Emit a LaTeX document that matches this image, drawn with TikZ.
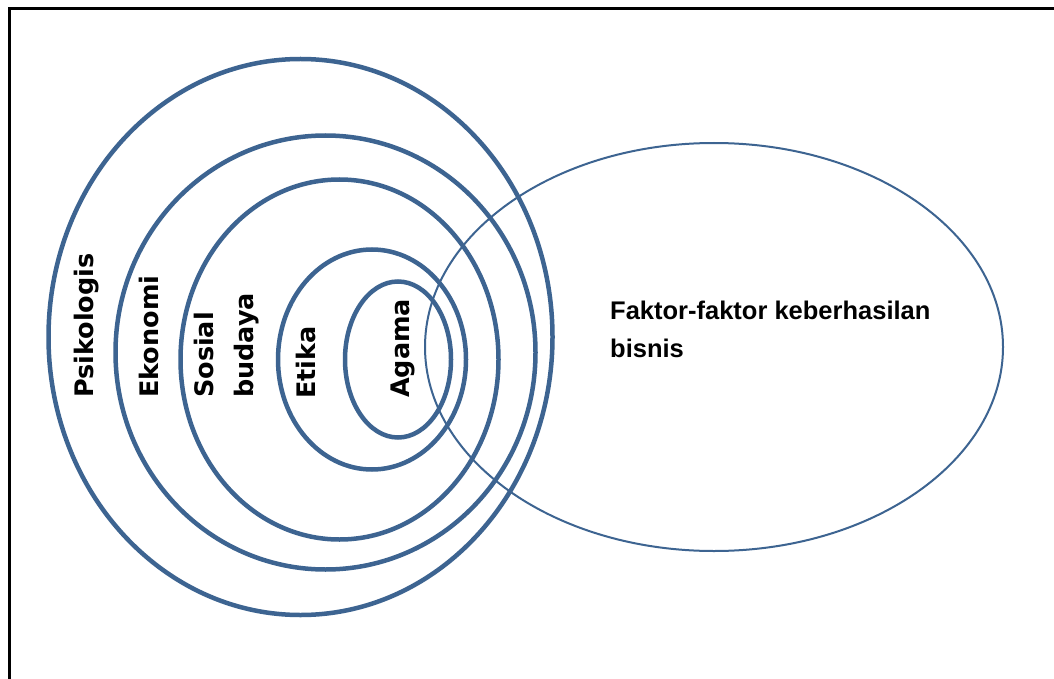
\documentclass[tikz,border=0pt]{standalone}
\usepackage{fontspec}
\setmainfont{Liberation Sans}
\newfontfamily\layerfont{DejaVu Sans}
\definecolor{ringblue}{HTML}{3D6491}

\begin{document}
\begin{tikzpicture}[
        x=1pt, y=-1pt,
        ring/.style={draw=ringblue, line width=4.5pt},
        goal/.style={draw=ringblue, line width=2pt},
        layer/.style={font=\layerfont\bfseries\fontsize{25.5}{40}\selectfont,
          rotate=90, inner sep=0pt, align=left},
        goaltext/.style={font=\bfseries\fontsize{25.5}{38}\selectfont,
          inner sep=0pt, align=left}
      ]
      \useasboundingbox (0,0) rectangle (1054,679);
      \fill[white] (0,0) rectangle (1054,679);
      \draw[line width=3pt] (9,679) |- (1054,9);

      \draw[goal] (714,347) ellipse [x radius=289, y radius=204];

      \draw[ring] (300.5,337) ellipse [x radius=252, y radius=278];
      \draw[ring] (325.5,352.5) ellipse [x radius=210, y radius=217];
      \draw[ring] (339.5,359.5) ellipse [x radius=159, y radius=180];
      \draw[ring] (372,359.5) ellipse [x radius=94, y radius=110];
      \draw[ring] (398,359.5) ellipse [x radius=53, y radius=78];

      \node[layer, anchor=base west] (psikologis) at (93,398) {Psikologis};
      \node[layer, anchor=base west] (ekonomi) at (158,398) {Ekonomi};
      \node[layer, anchor=north west] (sosbud) at (193.6,398) {Sosial\\budaya};
      \node[layer, anchor=base west] (etika) at (315,399) {Etika};
      \node[layer, anchor=base west] (agama) at (409,398) {Agama};

      \node[goaltext, anchor=north west] (faktor) at (610,300.5)
        {Faktor-faktor keberhasilan\\bisnis};
      \end{tikzpicture}
\end{document}
